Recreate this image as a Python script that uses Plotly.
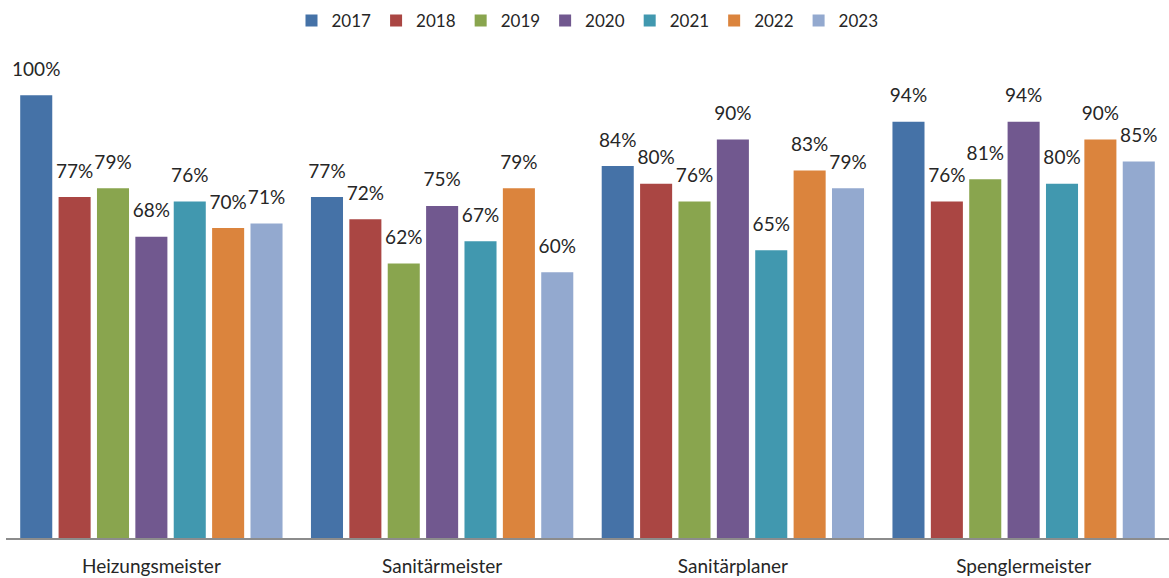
import plotly.graph_objects as go

categories = ["Heizungsmeister", "Sanitärmeister", "Sanitärplaner", "Spenglermeister"]
years = ["2017", "2018", "2019", "2020", "2021", "2022", "2023"]
values = {
    "2017": [100, 77, 84, 94],
    "2018": [77, 72, 80, 76],
    "2019": [79, 62, 76, 81],
    "2020": [68, 75, 90, 94],
    "2021": [76, 67, 65, 80],
    "2022": [70, 79, 83, 90],
    "2023": [71, 60, 79, 85],
}
colors = ["#4572A7", "#AA4643", "#89A54E", "#71588F", "#4198AF", "#DB843D", "#93A9CF"]

FONT = "Lato, 'Open Sans', sans-serif"
GAP = 0.076

fig = go.Figure()
for y, c in zip(years, colors):
    fig.add_trace(go.Bar(
        name=y, x=categories, y=values[y], marker=dict(color=c, line=dict(width=0)),
        hoverinfo="x+y",
    ))
for y in years:
    fig.add_trace(go.Scatter(
        x=categories, y=values[y], mode="markers+text",
        marker=dict(size=22, opacity=0),
        text=[f"{v}%" for v in values[y]], textposition="top center",
        textfont=dict(size=19, color="#262626", family=FONT),
        showlegend=False, hoverinfo="skip", cliponaxis=False,
    ))

fig.update_layout(
    width=1169, height=578,
    margin=dict(l=6, r=0, t=50, b=40),
    barmode="group", bargap=GAP, bargroupgap=0.165,
    scattermode="group", scattergap=GAP,
    plot_bgcolor="white", paper_bgcolor="white",
    font=dict(family=FONT, size=16, color="#262626"),
    legend=dict(orientation="h", x=0.5, xanchor="center", y=0.995, yanchor="top",
                yref="container", font=dict(size=17), itemwidth=30, traceorder="normal"),
)
fig.update_xaxes(showline=True, linecolor="#8C8C8C", linewidth=2, ticks="",
                 tickfont=dict(size=19), ticklabelstandoff=10)
fig.update_yaxes(visible=False, range=[0, 110.2], showgrid=False)

fig.write_html("out.html")
